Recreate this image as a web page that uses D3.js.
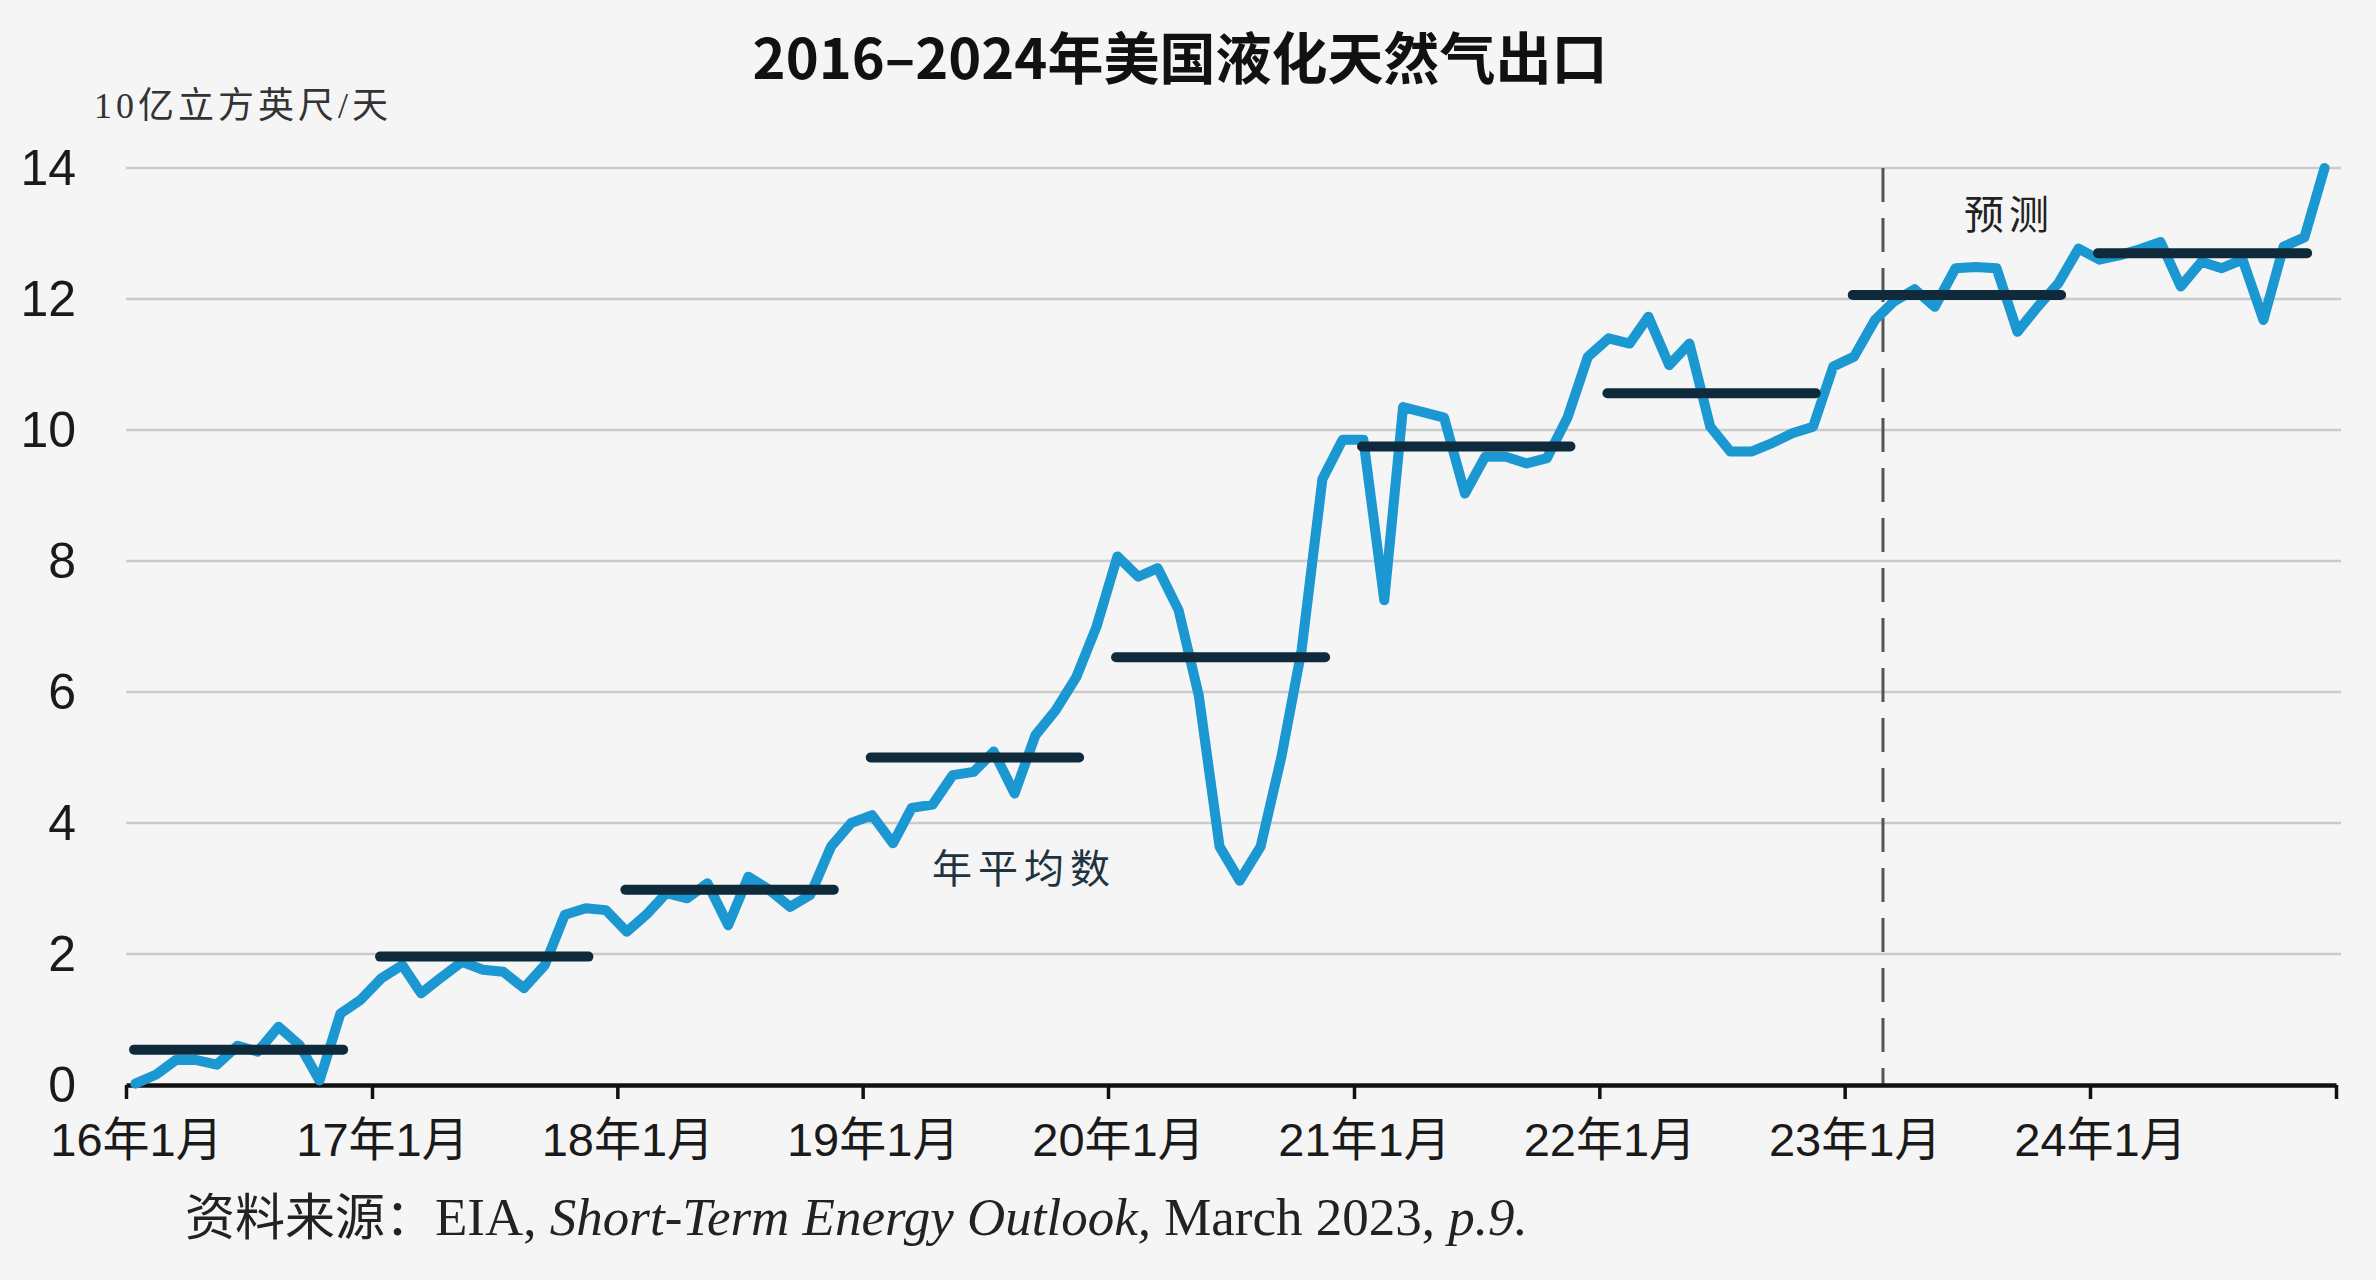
<!DOCTYPE html>
<html>
<head>
<meta charset="utf-8">
<script src="https://cdn.jsdelivr.net/npm/d3@7"></script>
<style>
  html, body { margin: 0; padding: 0; background: #f5f5f5; }
  svg { display: block; }
</style>
</head>
<body>
<svg id="chart" width="2376" height="1280"></svg>
<script>
// ---------------- data ----------------
const startYear = 2016;
const years = [2016, 2017, 2018, 2019, 2020, 2021, 2022, 2023, 2024];
// monthly U.S. LNG exports, billion cubic feet per day (Jan 2016 - Dec 2024)
const lngExports = [
  0.02, 0.16, 0.38, 0.38, 0.31, 0.60, 0.51, 0.89, 0.61, 0.07, 1.09, 1.30,
  1.63, 1.83, 1.40, 1.65, 1.88, 1.76, 1.73, 1.48, 1.83, 2.60, 2.70, 2.67,
  2.34, 2.62, 2.93, 2.85, 3.08, 2.44, 3.18, 2.98, 2.72, 2.90, 3.64, 4.00,
  4.12, 3.69, 4.23, 4.28, 4.73, 4.78, 5.09, 4.45, 5.34, 5.72, 6.23, 7.00,
  8.07, 7.76, 7.89, 7.25, 5.95, 3.64, 3.12, 3.64, 5.01, 6.64, 9.25, 9.85,
  9.85, 7.40, 10.35, 10.27, 10.19, 9.03, 9.59, 9.59, 9.49, 9.57, 10.20, 11.12,
  11.40, 11.32, 11.73, 10.99, 11.32, 10.05, 9.67, 9.67, 9.80, 9.95, 10.05, 10.97,
  11.12, 11.68, 11.96, 12.15, 11.88, 12.47, 12.49, 12.47, 11.50, 11.88, 12.24, 12.77,
  12.60, 12.67, 12.76, 12.87, 12.19, 12.57, 12.47, 12.60, 11.68, 12.80, 12.94, 14.00
];
const annualAverages = [0.54, 1.96, 2.98, 5.00, 6.53, 9.75, 10.56, 12.06, 12.70];
const xTickLabels = ["16年1月", "17年1月", "18年1月", "19年1月", "20年1月", "21年1月", "22年1月", "23年1月", "24年1月", ""];
const yTicks = [0, 2, 4, 6, 8, 10, 12, 14];
const forecastStart = new Date(2023, 1, 27);

const titleText = "2016–2024年美国液化天然气出口";
const unitText = "10亿立方英尺/天";
const forecastText = "预测";
const averageText = "年平均数";

// ---------------- layout ----------------
const svg = d3.select("#chart");
const W = 2376, H = 1280;
const plotLeft = 126, plotRight = 2336, plotTop = 168, plotBottom = 1085;

svg.append("rect").attr("width", W).attr("height", H).attr("fill", "#f5f5f5");

const x = d3.scaleTime()
  .domain([new Date(startYear, 0, 1), new Date(startYear + years.length, 0, 1)])
  .range([plotLeft, plotRight]);
const y = d3.scaleLinear().domain([0, 14]).range([plotBottom, plotTop]);

const cjk = "'Noto Sans CJK SC', 'Noto Sans', sans-serif";
const serifCjk = "'Liberation Serif', 'Noto Sans CJK SC', serif";

// gridlines
svg.append("g")
  .selectAll("line")
  .data(yTicks.filter(d => d > 0))
  .join("line")
  .attr("x1", plotLeft).attr("x2", plotRight + 5)
  .attr("y1", d => y(d)).attr("y2", d => y(d))
  .attr("stroke", "#cbcbcb").attr("stroke-width", 2.5);

// y axis labels
const yAxis = svg.append("g")
  .attr("transform", `translate(${plotLeft},0)`)
  .call(d3.axisLeft(y).tickValues(yTicks).tickSize(0).tickPadding(50).tickFormat(d3.format("d")));
yAxis.select(".domain").remove();
yAxis.selectAll("text")
  .attr("font-family", "'Liberation Sans', Arial, sans-serif")
  .attr("font-size", 50)
  .attr("fill", "#1a1a1a");

// forecast dashed line
svg.append("line")
  .attr("x1", x(forecastStart)).attr("x2", x(forecastStart))
  .attr("y1", plotTop).attr("y2", plotBottom)
  .attr("stroke", "#555").attr("stroke-width", 3)
  .attr("stroke-dasharray", "34,16");

// x axis
const tickDates = d3.range(years.length + 1).map(i => new Date(startYear + i, 0, 1));
const xAxis = svg.append("g")
  .attr("transform", `translate(0,${plotBottom})`)
  .call(d3.axisBottom(x).tickValues(tickDates).tickSize(14).tickSizeOuter(0)
    .tickPadding(24).tickFormat((d, i) => xTickLabels[i]));
xAxis.select(".domain").attr("stroke", "#111").attr("stroke-width", 4.5);
xAxis.selectAll(".tick line").attr("stroke", "#111").attr("stroke-width", 3.5);
xAxis.selectAll(".tick text")
  .attr("font-family", "'Liberation Sans', 'Noto Sans CJK SC', sans-serif")
  .attr("font-size", 47)
  .attr("fill", "#1a1a1a")
  .attr("dx", 10);

// monthly line
const line = d3.line()
  .x((d, i) => x(new Date(startYear, i, 15)))
  .y(d => y(d));
svg.append("path")
  .datum(lngExports)
  .attr("d", line)
  .attr("fill", "none")
  .attr("stroke", "#1b97d2")
  .attr("stroke-width", 10)
  .attr("stroke-linejoin", "round")
  .attr("stroke-linecap", "round");

// annual averages
svg.append("g")
  .selectAll("line")
  .data(years.map((yr, i) => ({ yr, v: annualAverages[i] })))
  .join("line")
  .attr("x1", d => x(new Date(d.yr, 0, 13)))
  .attr("x2", d => x(new Date(d.yr, 10, 19)))
  .attr("y1", d => y(d.v)).attr("y2", d => y(d.v))
  .attr("stroke", "#0e2a3b").attr("stroke-width", 10)
  .attr("stroke-linecap", "round");

// texts
svg.append("text")
  .attr("x", 1180).attr("y", 79)
  .attr("text-anchor", "middle")
  .attr("font-family", cjk)
  .attr("font-weight", "bold")
  .attr("font-size", 56)
  .attr("fill", "#111")
  .text(titleText);

svg.append("text")
  .attr("x", 94).attr("y", 118)
  .attr("font-family", serifCjk)
  .attr("font-size", 36)
  .attr("letter-spacing", 4)
  .attr("fill", "#333")
  .text(unitText);

svg.append("text")
  .attr("x", 1964).attr("y", 229)
  .attr("font-family", serifCjk)
  .attr("font-size", 40)
  .attr("letter-spacing", 5)
  .attr("fill", "#222")
  .text(forecastText);

svg.append("text")
  .attr("x", 932).attr("y", 883)
  .attr("font-family", serifCjk)
  .attr("font-size", 40)
  .attr("letter-spacing", 6)
  .attr("fill", "#1f3340")
  .text(averageText);

const src = svg.append("text")
  .attr("x", 185).attr("y", 1235)
  .attr("font-family", serifCjk)
  .attr("font-size", 50)
  .attr("fill", "#222");
src.append("tspan").text("资料来源：");
src.append("tspan").attr("font-size", 53).text("EIA, ");
src.append("tspan").attr("font-size", 53).attr("font-style", "italic").text("Short-Term Energy Outlook,");
src.append("tspan").attr("font-size", 53).text(" March 2023, ");
src.append("tspan").attr("font-size", 53).attr("font-style", "italic").text("p.9.");
</script>
</body>
</html>
